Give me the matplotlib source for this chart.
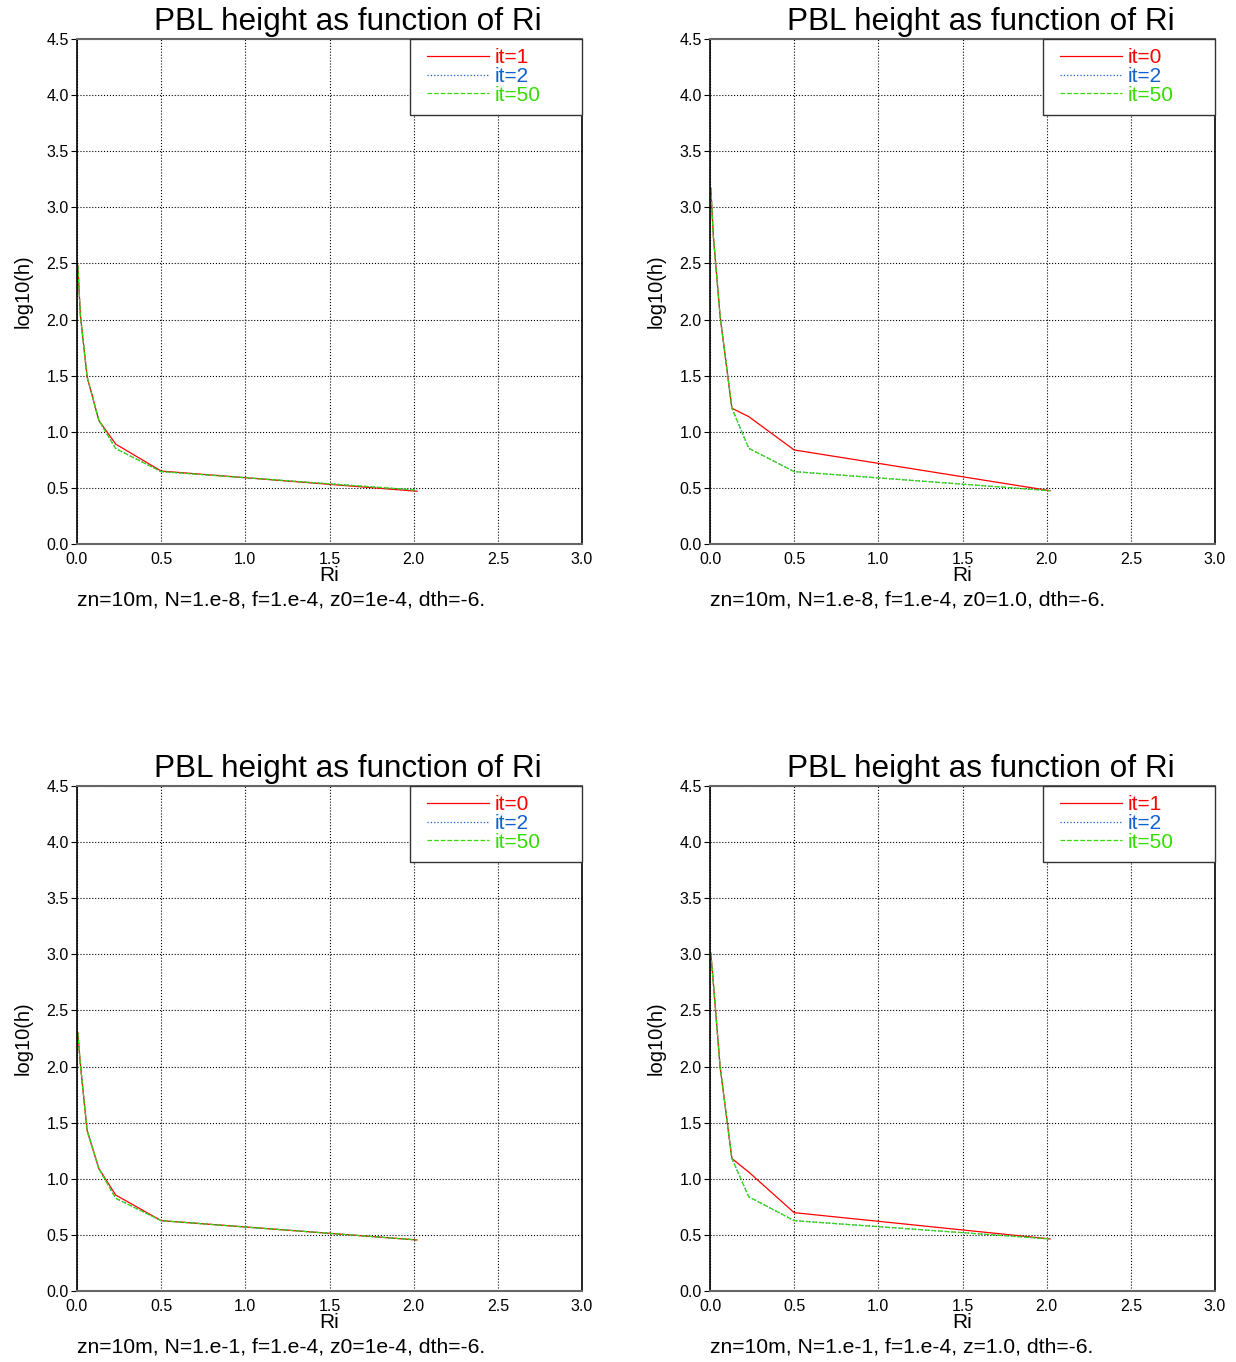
import matplotlib
matplotlib.use("Agg")
import matplotlib.pyplot as plt
from matplotlib.patches import Rectangle

plt.rcParams['font.family'] = ['Liberation Sans', 'DejaVu Sans']

# data: Richardson number grid and log10(h) per run
ri = [0.005, 0.02, 0.06, 0.13, 0.23, 0.5, 2.02]

# panel 1: N=1.e-8, z0=1e-4
p1_a = [2.48, 2.04, 1.49, 1.10, 0.89, 0.65, 0.47]
p1_b = [2.48, 2.04, 1.49, 1.10, 0.85, 0.645, 0.48]
p1_c = [2.48, 2.04, 1.49, 1.10, 0.85, 0.645, 0.48]

# panel 2: N=1.e-8, z0=1.0
p2_a = [3.17, 2.74, 2.03, 1.21, 1.135, 0.838, 0.475]
p2_b = [3.17, 2.74, 2.03, 1.21, 0.853, 0.645, 0.475]
p2_c = [3.17, 2.74, 2.03, 1.21, 0.853, 0.645, 0.475]

# panel 3: N=1.e-1, z0=1e-4
p3_a = [2.30, 2.02, 1.43, 1.09, 0.855, 0.627, 0.455]
p3_b = [2.30, 2.02, 1.43, 1.09, 0.826, 0.627, 0.455]
p3_c = [2.30, 2.02, 1.43, 1.09, 0.826, 0.627, 0.455]

# panel 4: N=1.e-1, z=1.0
p4_a = [3.01, 2.74, 2.0, 1.18, 1.06, 0.698, 0.464]
p4_b = [3.01, 2.74, 2.0, 1.18, 0.84, 0.627, 0.464]
p4_c = [3.01, 2.74, 2.0, 1.18, 0.84, 0.627, 0.464]

labels = [
    ['it=1', 'it=2', 'it=50'],
    ['it=0', 'it=2', 'it=50'],
    ['it=0', 'it=2', 'it=50'],
    ['it=1', 'it=2', 'it=50'],
]
captions = [
    'zn=10m, N=1.e-8, f=1.e-4, z0=1e-4, dth=-6.',
    'zn=10m, N=1.e-8, f=1.e-4, z0=1.0, dth=-6.',
    'zn=10m, N=1.e-1, f=1.e-4, z0=1e-4, dth=-6.',
    'zn=10m, N=1.e-1, f=1.e-4, z=1.0, dth=-6.',
]
series = [(p1_a, p1_b, p1_c), (p2_a, p2_b, p2_c),
          (p3_a, p3_b, p3_c), (p4_a, p4_b, p4_c)]

colors = ['#ff0000', '#1060d0', '#33dd00']
styles = ['-', ':', '--']

fig = plt.figure(figsize=(12.36, 13.62), dpi=100)

W, H = 1236, 1362
boxes = [(77, 39), (710, 39), (77, 786), (710, 786)]
aw, ah = 505, 505

for k, (x0, y0) in enumerate(boxes):
    ax = fig.add_axes([x0 / W, 1 - (y0 + ah) / H, aw / W, ah / H])
    for ys, c, ls, lab in zip(series[k], colors, styles, labels[k]):
        ax.plot(ri, ys, color=c, linestyle=ls, lw=0.9, label=lab)
    ax.set_xlim(0, 3.0)
    ax.set_ylim(0, 4.5)
    ax.set_xticks([0, 0.5, 1.0, 1.5, 2.0, 2.5, 3.0])
    ax.set_yticks([0, 0.5, 1.0, 1.5, 2.0, 2.5, 3.0, 3.5, 4.0, 4.5])
    ax.xaxis.set_major_formatter(matplotlib.ticker.FormatStrFormatter('%.1f'))
    ax.yaxis.set_major_formatter(matplotlib.ticker.FormatStrFormatter('%.1f'))
    ax.grid(True, color='black', linestyle=':', lw=0.8)
    ax.tick_params(axis='x', length=0, labelsize=11.5, pad=6)
    ax.tick_params(axis='y', length=4, labelsize=11.5, pad=2)
    for s in ['top', 'bottom']:
        ax.spines[s].set_color('#666666')
        ax.spines[s].set_linewidth(1.5)
    for s in ['left', 'right']:
        ax.spines[s].set_color('black')
        ax.spines[s].set_linewidth(1.2)
    ax.set_xlabel('Ri', fontsize=15, labelpad=-1)
    ax.set_ylabel('log10(h)', fontsize=14.5, labelpad=10)
    ax.text(0.5357, 1.003, 'PBL height as function of Ri', transform=ax.transAxes,
            ha='center', va='bottom', fontsize=22.7)
    ax.text(0.0, -0.093, captions[k], transform=ax.transAxes,
            ha='left', va='top', fontsize=15.2)
    # legend box as drawn in the reference (wider than its contents)
    ax.add_patch(Rectangle((333 / aw, 1 - 76 / ah), 172 / aw, 76 / ah,
                           transform=ax.transAxes, fill=True, facecolor='white',
                           edgecolor='#333333', lw=1.0, zorder=4, clip_on=False))
    leg = ax.legend(loc='upper left', bbox_to_anchor=(0.675, 1.0), fontsize=15,
                    frameon=False, borderaxespad=0, handlelength=2.95,
                    handletextpad=0.3, labelspacing=-0.02, borderpad=0.45,
                    labelcolor=colors)
    leg.set_zorder(5)

fig.savefig('out.png', dpi=100)
